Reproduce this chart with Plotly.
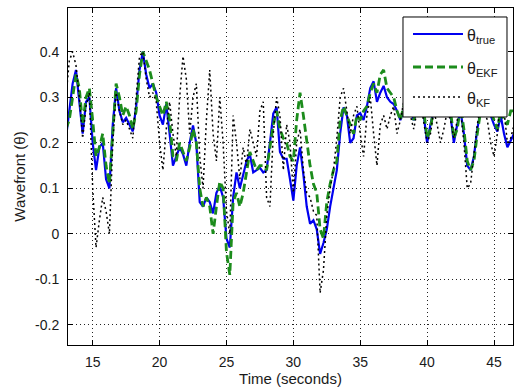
import plotly.graph_objects as go

# time samples (seconds)
t = [13.00, 13.25, 13.50, 13.75, 14.00, 14.25, 14.50, 14.75, 15.00, 15.25, 15.50, 15.75,
     16.00, 16.25, 16.50, 16.75, 17.00, 17.25, 17.50, 17.75, 18.00, 18.25, 18.50, 18.75,
     19.00, 19.25, 19.50, 19.75, 20.00, 20.25, 20.50, 20.75, 21.00, 21.25, 21.50, 21.75,
     22.00, 22.25, 22.50, 22.75, 23.00, 23.25, 23.50, 23.75, 24.00, 24.25, 24.50, 24.75,
     25.00, 25.25, 25.50, 25.75, 26.00, 26.25, 26.50, 26.75, 27.00, 27.25, 27.50, 27.75,
     28.00, 28.25, 28.50, 28.75, 29.00, 29.25, 29.50, 29.75, 30.00, 30.25, 30.50, 30.75,
     31.00, 31.25, 31.50, 31.75, 32.00, 32.25, 32.50, 32.75, 33.00, 33.25, 33.50, 33.75,
     34.00, 34.25, 34.50, 34.75, 35.00, 35.25, 35.50, 35.75, 36.00, 36.25, 36.50, 36.75,
     37.00, 37.25, 37.50, 37.75, 38.00, 38.25, 38.50, 38.75, 39.00, 39.25, 39.50, 39.75,
     40.00, 40.25, 40.50, 40.75, 41.00, 41.25, 41.50, 41.75, 42.00, 42.25, 42.50, 42.75,
     43.00, 43.25, 43.50, 43.75, 44.00, 44.25, 44.50, 44.75, 45.00, 45.25, 45.50, 45.75,
     46.00, 46.25, 46.50]

theta_true = [0.21, 0.27, 0.33, 0.36, 0.29, 0.22, 0.29, 0.30, 0.20, 0.14, 0.19, 0.20,
              0.12, 0.10, 0.24, 0.32, 0.27, 0.245, 0.255, 0.24, 0.225, 0.28, 0.36, 0.40,
              0.35, 0.32, 0.33, 0.31, 0.26, 0.24, 0.285, 0.22, 0.15, 0.17, 0.19, 0.175,
              0.15, 0.20, 0.238, 0.198, 0.07, 0.06, 0.08, 0.07, 0.045, 0.09, 0.105, 0.08,
              -0.01, -0.03, 0.08, 0.135, 0.10, 0.13, 0.16, 0.175, 0.135, 0.14, 0.145, 0.135,
              0.14, 0.20, 0.264, 0.278, 0.18, 0.165, 0.165, 0.12, 0.073, 0.15, 0.19, 0.13,
              0.06, 0.022, 0.03, 0.01, -0.044, -0.02, 0.01, 0.06, 0.10, 0.14, 0.22, 0.278,
              0.26, 0.20, 0.21, 0.26, 0.265, 0.25, 0.28, 0.32, 0.335, 0.29, 0.31, 0.325,
              0.30, 0.29, 0.285, 0.27, 0.25, 0.27, 0.28, 0.27, 0.25, 0.27, 0.28, 0.26,
              0.20, 0.24, 0.27, 0.28, 0.26, 0.27, 0.28, 0.26, 0.20, 0.24, 0.27, 0.22,
              0.15, 0.14, 0.17, 0.23, 0.27, 0.28, 0.27, 0.26, 0.24, 0.225, 0.26, 0.22,
              0.19, 0.205, 0.22]

theta_ekf = [0.23, 0.25, 0.30, 0.35, 0.32, 0.24, 0.30, 0.32, 0.25, 0.17, 0.19, 0.22,
             0.15, 0.11, 0.22, 0.33, 0.30, 0.26, 0.28, 0.26, 0.23, 0.27, 0.35, 0.40,
             0.38, 0.36, 0.33, 0.30, 0.28, 0.26, 0.29, 0.25, 0.17, 0.16, 0.20, 0.18,
             0.16, 0.19, 0.23, 0.20, 0.10, 0.06, 0.08, 0.06, 0.00, 0.06, 0.115, 0.10,
             -0.04, -0.09, 0.07, 0.09, 0.06, 0.09, 0.14, 0.18, 0.16, 0.14, 0.15, 0.15,
             0.14, 0.19, 0.24, 0.27, 0.23, 0.21, 0.20, 0.17, 0.16, 0.25, 0.31, 0.26,
             0.20, 0.15, 0.11, 0.09, 0.01, -0.01, 0.07, 0.11, 0.14, 0.16, 0.25, 0.28,
             0.26, 0.24, 0.22, 0.26, 0.25, 0.27, 0.28, 0.31, 0.33, 0.31, 0.35, 0.36,
             0.32, 0.31, 0.30, 0.27, 0.25, 0.28, 0.29, 0.27, 0.25, 0.28, 0.29, 0.27,
             0.21, 0.23, 0.28, 0.29, 0.27, 0.28, 0.29, 0.27, 0.21, 0.23, 0.28, 0.23,
             0.16, 0.14, 0.16, 0.22, 0.27, 0.29, 0.28, 0.27, 0.25, 0.23, 0.27, 0.25,
             0.24, 0.27, 0.27]

theta_kf = [0.30, 0.38, 0.40, 0.37, 0.30, 0.21, 0.28, 0.31, 0.10, -0.03, 0.03, 0.08,
            0.05, 0.00, 0.20, 0.31, 0.27, 0.24, 0.25, 0.23, 0.21, 0.30, 0.39, 0.40,
            0.34, 0.30, 0.31, 0.29, 0.20, 0.14, 0.23, 0.29, 0.22, 0.17, 0.30, 0.39,
            0.34, 0.22, 0.30, 0.33, 0.17, 0.10, 0.25, 0.36, 0.22, 0.16, 0.30, 0.20,
            0.05, 0.00, 0.26, 0.20, 0.12, 0.19, 0.15, 0.23, 0.20, 0.17, 0.27, 0.29,
            0.08, 0.06, 0.22, 0.30, 0.26, 0.14, 0.24, 0.20, 0.09, 0.20, 0.23, 0.14,
            0.09, 0.08, 0.05, 0.04, -0.13, -0.08, 0.04, 0.10, 0.14, 0.21, 0.30, 0.32,
            0.27, 0.22, 0.26, 0.28, 0.22, 0.17, 0.26, 0.30, 0.22, 0.15, 0.24, 0.26,
            0.23, 0.26, 0.28, 0.22, 0.25, 0.29, 0.30, 0.26, 0.23, 0.27, 0.29, 0.24,
            0.20, 0.22, 0.27, 0.24, 0.20, 0.23, 0.27, 0.25, 0.21, 0.25, 0.27, 0.20,
            0.10, 0.11, 0.17, 0.24, 0.28, 0.27, 0.25, 0.20, 0.17, 0.22, 0.30, 0.27,
            0.20, 0.21, 0.24]

series_names = ["θ<sub>true</sub>", "θ<sub>EKF</sub>", "θ<sub>KF</sub>"]
x_ticks = [15, 20, 25, 30, 35, 40, 45]
y_ticks = [-0.2, -0.1, 0, 0.1, 0.2, 0.3, 0.4]
y_tick_text = ["-0.2", "-0.1", "0", "0.1", "0.2", "0.3", "0.4"]

FONT = "Liberation Sans, Arial, sans-serif"
TXT = "#1a1a1a"

styles = [
    dict(color="#0000F0", width=2.2),
    dict(color="#1C8C1C", width=2.8, dash="8px,4px"),
    dict(color="black", width=1.5, dash="2px,3px"),
]

fig = go.Figure()
for name, ys, st in zip(series_names, [theta_true, theta_ekf, theta_kf], styles):
    fig.add_trace(go.Scatter(x=t, y=ys, mode="lines", name=name,
                             line=st, showlegend=False))

axis_common = dict(
    showline=True, linecolor="black", linewidth=1, mirror="ticks",
    ticks="inside", ticklen=5, tickcolor="black", tickwidth=1,
    showgrid=True, gridcolor="#222222", gridwidth=1, griddash="1px,3px",
    zeroline=False,
    tickfont=dict(family=FONT, size=14, color=TXT),
)

fig.update_xaxes(range=[13.154, 46.42], tickvals=x_ticks,
                 title=dict(text="Time (seconds)", font=dict(family=FONT, size=15, color=TXT),
                            standoff=4),
                 ticklabelstandoff=4,
                 **axis_common)
fig.update_yaxes(range=[-0.244, 0.496], tickvals=y_ticks, ticktext=y_tick_text,
                 title=dict(text="Wavefront (θ)", font=dict(family=FONT, size=15, color=TXT),
                            standoff=5),
                 ticklabelstandoff=5,
                 **axis_common)

# legend box drawn in paper coordinates (top-right, like the MATLAB legend)
box_x0, box_x1, box_y0, box_y1 = 0.7528, 0.9865, 0.6766, 0.9733
row_y = [0.9228, 0.8249, 0.7359]
line_x0, line_x1, text_x = 0.7753, 0.8876, 0.8920

shapes = [dict(type="rect", xref="paper", yref="paper",
               x0=box_x0, x1=box_x1, y0=box_y0, y1=box_y1,
               line=dict(color="black", width=1), fillcolor="white", layer="above")]
annotations = []
for name, st, ry in zip(series_names, styles, row_y):
    shapes.append(dict(type="line", xref="paper", yref="paper",
                       x0=line_x0, x1=line_x1, y0=ry, y1=ry,
                       line=st, layer="above"))
    annotations.append(dict(xref="paper", yref="paper", x=text_x, y=ry,
                            xanchor="left", yanchor="middle", yshift=-2,
                            text=name, showarrow=False,
                            font=dict(family=FONT, size=16, color=TXT)))

fig.update_layout(
    width=514, height=389,
    margin=dict(l=68, r=1, t=8, b=44, autoexpand=False),
    paper_bgcolor="white", plot_bgcolor="white",
    showlegend=False,
    shapes=shapes, annotations=annotations,
)

fig.write_html("out.html")
